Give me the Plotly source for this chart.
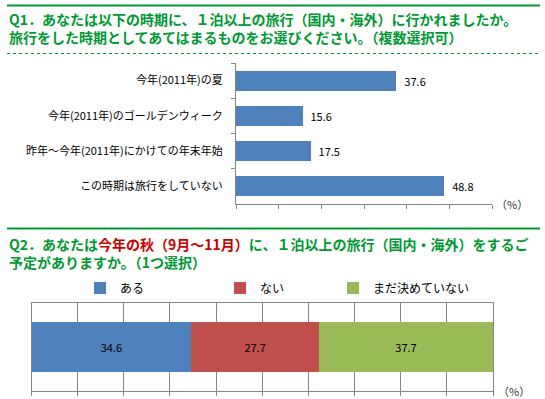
import plotly.graph_objects as go

W, H = 545, 399

# ---- data ----
q1_categories = ["今年(2011年)の夏", "今年(2011年)のゴールデンウィーク",
                 "昨年～今年(2011年)にかけての年末年始", "この時期は旅行をしていない"]
q1_values = [37.6, 15.6, 17.5, 48.8]

q2_series = ["ある", "ない", "まだ決めていない"]
q2_values = [34.6, 27.7, 37.7]
q2_colors = ["#4F81BD", "#C0504D", "#9BBB59"]

q1_title = ("Q1．あなたは以下の時期に、１泊以上の旅行（国内・海外）に行かれましたか。<br>"
            "旅行をした時期としてあてはまるものをお選びください。（複数選択可）")
q2_title = ("Q2．あなたは<span style='color:#CC0000'>今年の秋（9月～11月）</span>"
            "に、１泊以上の旅行（国内・海外）をするご<br>予定がありますか。（1つ選択）")

GREEN = "#009933"
FONT = "Noto Sans CJK JP"


def px(x):
    return x / W


def py(y):
    return 1 - y / H


fig = go.Figure()

# ---- Q1 bar chart ----
fig.add_trace(go.Bar(
    x=q1_values, y=q1_categories, orientation="h",
    marker=dict(color="#4F81BD", line=dict(width=0)),
    width=0.57,
    texttemplate="\u00a0\u00a0%{x:.1f}", textposition="outside",
    textfont=dict(size=11, color="#000000", family=FONT),
    cliponaxis=False, showlegend=False, xaxis="x", yaxis="y",
))

# ---- Q2 stacked bar ----
legends = ["legend", "legend2", "legend3"]
for name, val, col, lg in zip(q2_series, q2_values, q2_colors, legends):
    fig.add_trace(go.Bar(
        x=[val], y=["Q2"], orientation="h", name=name,
        marker=dict(color=col, line=dict(width=0)),
        width=0.57,
        texttemplate="%{x:.1f}", textposition="inside", insidetextanchor="middle",
        textfont=dict(size=11, color="#000000", family=FONT),
        xaxis="x2", yaxis="y2", legend=lg,
    ))

AXC = "#868686"

leg_common = dict(orientation="h", yanchor="middle", xanchor="left",
                  bgcolor="rgba(0,0,0,0)", itemwidth=30,
                  font=dict(size=12, color="#000000", family=FONT),
                  borderwidth=0, tracegroupgap=0)

fig.update_layout(
    width=W, height=H,
    margin=dict(l=0, r=0, t=0, b=0),
    paper_bgcolor="white", plot_bgcolor="white",
    barmode="stack",
    font=dict(family=FONT, size=11, color="#000000"),
    xaxis=dict(domain=[px(236), px(492)], range=[0, 60], dtick=10,
               showgrid=False, zeroline=False, showline=True, linecolor=AXC,
               linewidth=1, ticks="outside", ticklen=4, tickcolor=AXC,
               showticklabels=False, anchor="y", fixedrange=True),
    yaxis=dict(domain=[py(204), py(63)], autorange="reversed",
               showgrid=False, zeroline=False, showline=True, linecolor=AXC,
               linewidth=1, ticks="outside", ticklen=4, tickcolor=AXC,
               tickson="boundaries", ticklabelstandoff=10,
               tickfont=dict(size=11, color="#000000", family=FONT),
               anchor="x", fixedrange=True),
    xaxis2=dict(domain=[px(31.5), px(493)], range=[0, 100], dtick=10,
                showgrid=True, gridcolor=AXC, gridwidth=1,
                zeroline=False, showline=True, mirror=True, linecolor=AXC,
                linewidth=1, ticks="outside", ticklen=4, tickcolor=AXC,
                showticklabels=False, anchor="y2", fixedrange=True),
    yaxis2=dict(domain=[py(391), py(302.7)], range=[-0.5, 0.5],
                showgrid=False, zeroline=False, showline=True, mirror=True,
                linecolor=AXC, linewidth=1, showticklabels=False, ticks="",
                anchor="x2", fixedrange=True),
    legend=dict(x=px(80), y=py(288), **leg_common),
    legend2=dict(x=px(220), y=py(288), **leg_common),
    legend3=dict(x=px(333), y=py(288), **leg_common),
)

# ---- titles ----
title_font = dict(family=FONT, size=14, color=GREEN, weight="bold")
for txt, y in [(q1_title, 28.5), (q2_title, 252.5)]:
    fig.add_annotation(text=txt, x=px(7), y=py(y), xref="paper", yref="paper",
                       xanchor="left", yanchor="middle", align="left",
                       showarrow=False, font=title_font)

# (%) unit labels
for x, y in [(px(494), py(204)), (px(496), py(391))]:
    fig.add_annotation(text="（%）", x=x, y=y, xref="paper", yref="paper",
                       xanchor="left", yanchor="middle", showarrow=False,
                       font=dict(size=11, color="#333333", family=FONT))

# ---- decorative lines ----
fig.add_shape(type="line", xref="paper", yref="paper",
              x0=px(7), x1=px(540), y0=py(5.5), y1=py(5.5),
              line=dict(color=GREEN, width=2))
fig.add_shape(type="line", xref="paper", yref="paper",
              x0=px(7), x1=px(540), y0=py(53.5), y1=py(53.5),
              line=dict(color=GREEN, width=1, dash="dot"))
fig.add_shape(type="line", xref="paper", yref="paper",
              x0=px(7), x1=px(540), y0=py(228.5), y1=py(228.5),
              line=dict(color=GREEN, width=2))

fig.write_html("out.html")
